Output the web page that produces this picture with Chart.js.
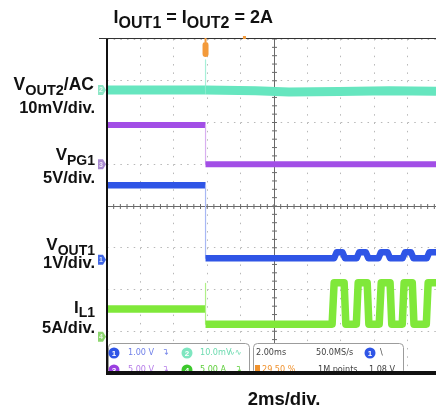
<!DOCTYPE html>
<html>
<head>
<meta charset="utf-8">
<script src="https://cdn.jsdelivr.net/npm/chart.js@4/dist/chart.umd.min.js"></script>
<style>
  html, body { margin: 0; padding: 0; background: #fff; }
  #scope { display: block; }
</style>
</head>
<body>
<canvas id="scope" width="436" height="409"></canvas>
<script>
// time in ms (trigger = 0), levels in screen divisions (centre line = 0)
const gridTimes = [-5.9, -3.9, -1.9, 0.1, 2.1, 4.1, 6.1, 8.1, 10.1, 12.1];
const gridLevels = [-4, -3, -2, -1, 0, 1, 2, 3, 4];

const vout2Time = [-5.9, 0, 0, 0, 3, 5, 8, 11, 13.8];
const vout2Level = [2.78, 2.78, 3.5, 2.78, 2.76, 2.73, 2.74, 2.76, 2.75];

const vpg1Time = [-5.9, 0, 0, 13.8];
const vpg1Level = [1.94, 1.94, 1.0, 1.0];

const vout1Time = [-5.9, 0, 0, 7.7, 7.85, 8.2, 8.35, 9.05, 9.2, 9.6, 9.75, 10.35, 10.5, 10.9, 11.05, 11.8, 11.95, 12.3, 12.45, 13.25, 13.4, 13.8];
const vout1Level = [0.5, 0.5, -1.25, -1.25, -1.11, -1.11, -1.25, -1.25, -1.11, -1.11, -1.25, -1.25, -1.11, -1.11, -1.25, -1.25, -1.11, -1.11, -1.25, -1.25, -1.11, -1.11];

const il1Time = [-5.9, 0, 0, 0, 7.58, 7.7, 8.3, 8.4, 9.03, 9.14, 9.68, 9.78, 10.4, 10.52, 11.05, 11.15, 11.78, 11.89, 12.38, 12.48, 13.22, 13.33, 13.8];
const il1Level = [-2.47, -2.47, -1.85, -2.83, -2.83, -1.84, -1.84, -2.83, -2.83, -1.84, -1.84, -2.83, -2.83, -1.84, -1.84, -2.83, -2.83, -1.84, -1.84, -2.83, -2.83, -1.84, -1.84];

// channel ground markers: ch1..ch4
const channelNames = ["1", "2", "3", "4"];
const channelRef = [-1.29, 2.78, 1.0, -3.13];
const channelTag = ["#3f66e6", "#8de6c6", "#a98ad0", "#8cd66e"];

const toPoints = (t, v) => t.map((x, i) => ({ x: x, y: v[i] }));

// vertical steps are drawn thin and pale, like the scope does
function trace(label, t, v, color, thin, width) {
  return {
    label: label,
    data: toPoints(t, v),
    borderColor: color,
    borderWidth: width,
    pointRadius: 0,
    tension: 0,
    borderJoinStyle: "round",
    segment: {
      borderWidth: (c) => (c.p0.parsed.x === c.p1.parsed.x ? 1.2 : undefined),
      borderColor: (c) => (c.p0.parsed.x === c.p1.parsed.x ? thin : undefined),
    },
  };
}

function rich(ctx, parts, xRight, y) {
  let w = 0;
  parts.forEach((p) => {
    ctx.font = "bold " + p[1] + "px 'Liberation Sans', Arial, sans-serif";
    w += ctx.measureText(p[0]).width;
  });
  let x = xRight - w;
  ctx.textAlign = "left";
  ctx.textBaseline = "alphabetic";
  parts.forEach((p) => {
    ctx.font = "bold " + p[1] + "px 'Liberation Sans', Arial, sans-serif";
    ctx.fillText(p[0], x, y + (p[2] || 0));
    x += ctx.measureText(p[0]).width;
  });
}

function badge(ctx, x, y, color, txt) {
  ctx.fillStyle = color;
  ctx.beginPath();
  ctx.arc(x, y, 5.5, 0, Math.PI * 2);
  ctx.fill();
  ctx.fillStyle = "#fff";
  ctx.font = "bold 8px 'Liberation Sans', sans-serif";
  ctx.textAlign = "center";
  ctx.textBaseline = "middle";
  ctx.fillText(txt, x, y + 0.5);
}

const scopeDecor = {
  id: "scopeDecor",
  beforeDatasetsDraw(chart) {
    const { ctx, chartArea, scales } = chart;
    const cx = scales.x.getPixelForValue(4.1);
    const cy = scales.y.getPixelForValue(0);
    const divX = scales.x.getPixelForValue(-3.9) - scales.x.getPixelForValue(-5.9);
    const divY = scales.y.getPixelForValue(0) - scales.y.getPixelForValue(1);
    ctx.save();
    ctx.strokeStyle = "#6a6a6a";
    ctx.lineWidth = 1;
    ctx.beginPath();
    ctx.moveTo(chartArea.left, cy + 0.5);
    ctx.lineTo(chartArea.right, cy + 0.5);
    ctx.moveTo(cx + 0.5, chartArea.top);
    ctx.lineTo(cx + 0.5, chartArea.bottom);
    for (let x = chartArea.left; x <= chartArea.right; x += divX / 5) {
      ctx.moveTo(x, cy - 2);
      ctx.lineTo(x, cy + 3);
    }
    for (let y = chartArea.top; y <= chartArea.bottom; y += divY / 5) {
      ctx.moveTo(cx - 2, y);
      ctx.lineTo(cx + 3, y);
    }
    ctx.stroke();
    ctx.restore();
  },
  afterDraw(chart) {
    const { ctx, chartArea, scales } = chart;
    ctx.save();

    // readout panel (bottom row is cut by the frame)
    ctx.fillStyle = "#fff";
    ctx.strokeStyle = "#9c9c9c";
    ctx.lineWidth = 1;
    [[108.5, 343.5, 141], [253.5, 343.5, 150]].forEach((b) => {
      ctx.beginPath();
      ctx.roundRect(b[0], b[1], b[2], 31, 4);
      ctx.fill();
      ctx.stroke();
    });
    badge(ctx, 114, 353, "#2f55e6", "1");
    badge(ctx, 114, 370, "#9a3fe0", "3");
    badge(ctx, 187, 353, "#7ee6c0", "2");
    badge(ctx, 187, 370, "#3cc82c", "4");
    badge(ctx, 370, 353, "#2f55e6", "1");
    ctx.font = "9px 'Liberation Sans Narrow', 'DejaVu Sans Condensed', sans-serif";
    ctx.textAlign = "left";
    ctx.textBaseline = "middle";
    const txt = [
      ["1.00 V", 128, 353, "#7080e8"], ["\u21B4", 162, 353, "#7080e8"],
      ["5.00 V", 128, 370, "#b57be8"], ["\u21B4", 162, 370, "#b57be8"],
      ["10.0mV", 200, 353, "#6edbb0"], ["\u223F\u223F", 228, 353, "#6edbb0"],
      ["5.00 A", 200, 370, "#5fcf3c"], ["\u21B4", 235, 370, "#5fcf3c"],
      ["2.00ms", 256, 353, "#444"], ["50.0MS/s", 316, 353, "#444"], ["\\", 380, 353, "#444"],
      ["29.50 %", 262, 370, "#f0922e"], ["1M points", 318, 370, "#444"], ["1.08 V", 369, 370, "#444"],
    ];
    txt.forEach((t) => {
      ctx.fillStyle = t[3];
      ctx.fillText(t[0], t[1], t[2]);
    });
    ctx.fillStyle = "#f0922e";
    ctx.fillRect(255, 365, 5, 8);

    // frame
    ctx.fillStyle = "#111";
    ctx.fillRect(chartArea.left - 1, chartArea.top, 2, chartArea.bottom - chartArea.top + 2);
    ctx.fillRect(chartArea.left - 1, chartArea.bottom - 2, chartArea.right, 4);
    ctx.fillStyle = "#fff";
    ctx.fillRect(chartArea.left - 1, chartArea.bottom + 2, chartArea.right, 10);
    ctx.fillStyle = "#333";
    ctx.fillRect(99, chartArea.top - 1, chartArea.right - 99, 1);

    // trigger markers
    const tx = scales.x.getPixelForValue(0);
    ctx.fillStyle = "#f39a3a";
    ctx.beginPath();
    ctx.roundRect(tx - 3, chartArea.top + 3, 6, 15, 3);
    ctx.fill();
    ctx.fillRect(tx - 1, chartArea.top - 1, 2, 4);
    ctx.fillRect(scales.x.getPixelForValue(2.3) - 1, chartArea.top - 3, 3, 3);

    // channel ground tags
    channelRef.forEach((lv, i) => {
      const y = scales.y.getPixelForValue(lv);
      ctx.fillStyle = channelTag[i];
      ctx.beginPath();
      ctx.moveTo(98, y - 5);
      ctx.lineTo(103, y - 5);
      ctx.lineTo(106, y);
      ctx.lineTo(103, y + 5);
      ctx.lineTo(98, y + 5);
      ctx.closePath();
      ctx.fill();
      ctx.fillStyle = "rgba(255,255,255,0.8)";
      ctx.font = "bold 7px 'Liberation Sans', sans-serif";
      ctx.textAlign = "center";
      ctx.textBaseline = "middle";
      ctx.fillText(channelNames[i], 101, y + 0.5);
    });

    // labels
    ctx.fillStyle = "#111";
    rich(ctx, [["I", 18], ["OUT1", 16, 5], [" = I", 18], ["OUT2", 16, 5], [" = 2A", 18]], 273, 23);
    rich(ctx, [["V", 17.5], ["OUT2", 14.5, 5], ["/AC", 17.5]], 94, 90);
    rich(ctx, [["10mV/div.", 16.5]], 95, 113);
    rich(ctx, [["V", 17], ["PG1", 14, 5]], 95, 160);
    rich(ctx, [["5V/div.", 16.5]], 95, 183);
    rich(ctx, [["V", 17], ["OUT1", 14, 5]], 95, 250);
    rich(ctx, [["1V/div.", 16.5]], 95, 268);
    rich(ctx, [["I", 17], ["L1", 14, 4]], 95, 313);
    rich(ctx, [["5A/div.", 16.5]], 95, 333);
    ctx.textAlign = "center";
    ctx.font = "bold 18.5px 'Liberation Sans', Arial, sans-serif";
    ctx.fillText("2ms/div.", 284, 405);
    ctx.restore();
  },
};

new Chart(document.getElementById("scope").getContext("2d"), {
  type: "line",
  data: {
    datasets: [
      trace("VOUT2/AC", vout2Time, vout2Level, "#66e6bf", "#a8f0d8", 9),
      trace("VPG1", vpg1Time, vpg1Level, "#a24ee6", "#d8b0f0", 6),
      trace("VOUT1", vout1Time, vout1Level, "#2f55e6", "#a8b8f4", 6.5),
      trace("IL1", il1Time, il1Level, "#80e83a", "#b0f088", 7.5),
    ],
  },
  options: {
    responsive: false,
    animation: false,
    devicePixelRatio: 1,
    layout: { padding: { left: 107, top: 39, right: 0, bottom: 36 } },
    plugins: { legend: { display: false }, tooltip: { enabled: false } },
    scales: {
      x: {
        type: "linear",
        min: -5.9,
        max: 13.8,
        afterBuildTicks: (s) => { s.ticks = gridTimes.map((v) => ({ value: v })); },
        ticks: { display: false },
        grid: { color: "#b8b8b8", lineWidth: 1, drawTicks: false },
        border: { display: false, dash: [1.5, 6.85] },
      },
      y: {
        type: "linear",
        min: -4,
        max: 4,
        afterBuildTicks: (s) => { s.ticks = gridLevels.map((v) => ({ value: v })); },
        ticks: { display: false },
        grid: { color: "#b8b8b8", lineWidth: 1, drawTicks: false },
        border: { display: false, dash: [1.5, 5.18] },
      },
    },
  },
  plugins: [scopeDecor],
});
</script>
</body>
</html>
